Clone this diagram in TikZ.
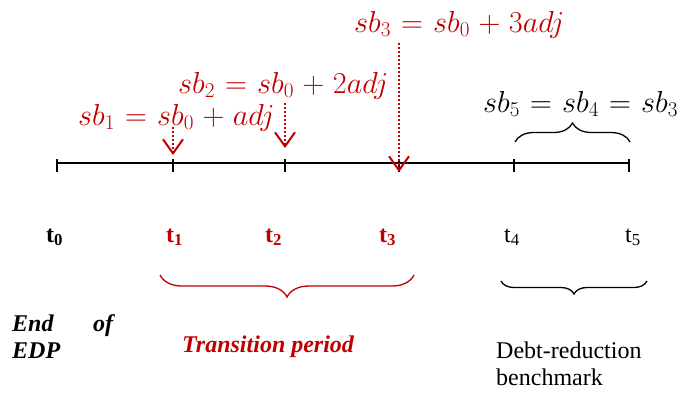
\documentclass[tikz,border=0pt]{standalone}
\usepackage{fontspec}
\setmainfont{Liberation Serif}
\usetikzlibrary{arrows.meta,decorations.pathreplacing}
\definecolor{dred}{RGB}{192,0,0}
\newcommand{\wideeq}[1]{\scalebox{1.22}{$\thickmuskip=6mu\medmuskip=5mu #1$}}
\begin{document}
\begin{tikzpicture}[x=1pt,y=-1pt,
  axisline/.style={line width=1.6pt},
  tickmark/.style={line width=1.6pt},
  ptr/.style={dred,line width=2pt,dash pattern=on 2pt off 2pt,
    -{Straight Barb[length=14pt,width=20pt,line width=2pt]}},
  eq/.style={font=\fontsize{24}{28}\selectfont,anchor=base west,inner sep=0pt},
  tlab/.style={font=\fontsize{24}{28}\selectfont,anchor=base west,inner sep=0pt},
  txt/.style={font=\fontsize{24}{27}\selectfont,anchor=base west,inner sep=0pt,align=left},
  bracedec/.style={decorate,line width=1.3pt}
]
\useasboundingbox (0,0) rectangle (687,392);
% axis ticks
\coordinate (c0) at (57,163);
\coordinate (c1) at (173,163);
\coordinate (c2) at (285,163);
\coordinate (c3) at (399,163);
\coordinate (c4) at (514,163);
\coordinate (c5) at (629,163);
\draw[axisline] (c0) -- (c5);
\foreach \i in {0,...,5}
  \draw[tickmark] (c\i) ++(0,-4) -- ++(0,13);
% equations
\node[eq,text=dred] (eq1) at (78,125) {\wideeq{sb_1 = sb_0 + adj}};
\node[eq,text=dred] (eq2) at (178,93) {\wideeq{sb_2 = sb_0 + 2adj}};
\node[eq,text=dred] (eq3) at (354,32) {\wideeq{sb_3 = sb_0 + 3adj}};
\node[eq] (eq5) at (483,112) {\wideeq{sb_5 = sb_4 = sb_3}};
% pointers
\coordinate (p1s) at (173,127); \coordinate (p1e) at (173,155);
\coordinate (p2s) at (285,103); \coordinate (p2e) at (285,148);
\coordinate (p3s) at (399,43);  \coordinate (p3e) at (399,172);
\draw[ptr] (p1s) -- (p1e);
\draw[ptr] (p2s) -- (p2e);
\draw[ptr] (p3s) -- (p3e);
% upper brace
\coordinate (ub1) at (515,142); \coordinate (ub2) at (630,142);
\draw[bracedec,decoration={brace,amplitude=19pt}] (ub1) -- (ub2);
% time labels
\node[tlab] (t0) at (46,242) {\textbf{t\textsubscript{0}}};
\node[tlab,text=dred] (t1) at (166,242) {\textbf{t\textsubscript{1}}};
\node[tlab,text=dred] (t2) at (265,242) {\textbf{t\textsubscript{2}}};
\node[tlab,text=dred] (t3) at (379,242) {\textbf{t\textsubscript{3}}};
\node[tlab] (t4) at (504,242) {t\textsubscript{4}};
\node[tlab] (t5) at (625,242) {t\textsubscript{5}};
% lower braces
\coordinate (rb1) at (414,275); \coordinate (rb2) at (160,275);
\draw[bracedec,dred,decoration={brace,amplitude=22pt}] (rb1) -- (rb2);
\coordinate (bb1) at (647,281); \coordinate (bb2) at (501,281);
\draw[bracedec,decoration={brace,amplitude=13pt}] (bb1) -- (bb2);
% bottom texts
\node[txt] (edp) at (12,358) {\textbf{\textit{\makebox[101pt][s]{End\hfill of}}}\\\textbf{\textit{EDP}}};
\node[txt,text=dred] (trans) at (182,352) {\textbf{\textit{Transition period}}};
\node[txt] (debt) at (496,385) {Debt-reduction\\benchmark};
\end{tikzpicture}
\end{document}
